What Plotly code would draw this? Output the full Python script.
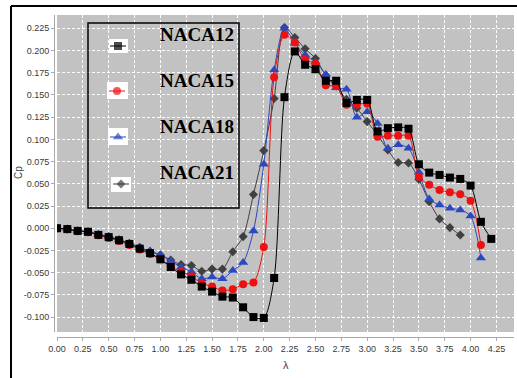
import plotly.graph_objects as go

# ---------------- data ----------------
lam_12 = [0.0, 0.1, 0.2, 0.3, 0.4, 0.5, 0.6, 0.7, 0.8, 0.9, 1.0, 1.1, 1.2, 1.3, 1.4, 1.5, 1.6, 1.7, 1.8, 1.9,
          2.0, 2.1, 2.2, 2.3, 2.4, 2.5, 2.6, 2.7, 2.8, 2.9, 3.0, 3.1, 3.2, 3.3, 3.4, 3.5, 3.6, 3.7, 3.8, 3.9,
          4.0, 4.1, 4.2]
cp_12 = [0.000, -0.001, -0.003, -0.004, -0.0075, -0.010, -0.0135, -0.0177, -0.023, -0.028,
         -0.035, -0.0436, -0.052, -0.058, -0.0657, -0.0714, -0.077, -0.078, -0.089, -0.100,
         -0.101, -0.056, 0.1475, 0.199, 0.184, 0.179, 0.166, 0.166, 0.141, 0.1445,
         0.1445, 0.109, 0.1126, 0.1135, 0.112, 0.072, 0.0626, 0.060, 0.057, 0.0555,
         0.048, 0.0072, -0.012]

lam_15 = [0.0, 0.1, 0.2, 0.3, 0.4, 0.5, 0.6, 0.7, 0.8, 0.9, 1.0, 1.1, 1.2, 1.3, 1.4, 1.5, 1.6, 1.7, 1.8, 1.9,
          2.0, 2.1, 2.2, 2.3, 2.4, 2.5, 2.6, 2.7, 2.8, 2.9, 3.0, 3.1, 3.2, 3.3, 3.4, 3.5, 3.6, 3.7, 3.8, 3.9,
          4.0, 4.1]
cp_15 = [0.000, -0.001, -0.003, -0.0045, -0.008, -0.011, -0.0145, -0.019, -0.024, -0.029,
         -0.035, -0.043, -0.049, -0.054, -0.062, -0.0655, -0.070, -0.0687, -0.063, -0.061,
         -0.021, 0.170, 0.2177, 0.209, 0.190, 0.185, 0.161, 0.160, 0.139, 0.139,
         0.140, 0.103, 0.104, 0.104, 0.104, 0.058, 0.0488, 0.043, 0.0405, 0.0383,
         0.031, -0.0188]

lam_18 = [0.0, 0.1, 0.2, 0.3, 0.4, 0.5, 0.6, 0.7, 0.8, 0.9, 1.0, 1.1, 1.2, 1.3, 1.4, 1.5, 1.6, 1.7, 1.8, 1.9,
          2.0, 2.1, 2.2, 2.3, 2.4, 2.5, 2.6, 2.7, 2.8, 2.9, 3.0, 3.1, 3.2, 3.3, 3.4, 3.5, 3.6, 3.7, 3.8, 3.9,
          4.0, 4.1]
cp_18 = [0.000, -0.001, -0.003, -0.004, -0.007, -0.0095, -0.013, -0.017, -0.022, -0.026,
         -0.030, -0.0368, -0.044, -0.049, -0.057, -0.055, -0.057, -0.0477, -0.0387, -0.003,
         0.072, 0.178, 0.225, 0.208, 0.195, 0.187, 0.173, 0.158, 0.1565, 0.125,
         0.131, 0.118, 0.090, 0.094, 0.090, 0.063, 0.033, 0.0262, 0.0225, 0.0206,
         0.0138, -0.0335]

lam_21 = [0.0, 0.1, 0.2, 0.3, 0.4, 0.5, 0.6, 0.7, 0.8, 0.9, 1.0, 1.1, 1.2, 1.3, 1.4, 1.5, 1.6, 1.7, 1.8, 1.9,
          2.0, 2.1, 2.2, 2.3, 2.4, 2.5, 2.6, 2.7, 2.8, 2.9, 3.0, 3.1, 3.2, 3.3, 3.4, 3.5, 3.6, 3.7, 3.8, 3.9]
cp_21 = [0.000, -0.001, -0.003, -0.004, -0.007, -0.0095, -0.013, -0.017, -0.0215, -0.026,
         -0.030, -0.0357, -0.041, -0.042, -0.0485, -0.046, -0.046, -0.0265, -0.0094, 0.038,
         0.0874, 0.146, 0.226, 0.2147, 0.202, 0.191, 0.172, 0.160, 0.145, 0.135,
         0.120, 0.105, 0.088, 0.074, 0.0735, 0.055, 0.030, 0.0105, 0.0007, -0.0077]

series_names = ["NACA12", "NACA15", "NACA18", "NACA21"]

x_tick_vals = [0.0, 0.25, 0.5, 0.75, 1.0, 1.25, 1.5, 1.75, 2.0, 2.25, 2.5, 2.75, 3.0, 3.25, 3.5, 3.75, 4.0, 4.25]
x_tick_text = ["0.00", "0.25", "0.50", "0.75", "1.00", "1.25", "1.50", "1.75", "2.00", "2.25", "2.50",
               "2.75", "3.00", "3.25", "3.50", "3.75", "4.00", "4.25"]
y_tick_vals = [-0.1, -0.075, -0.05, -0.025, 0.0, 0.025, 0.05, 0.075, 0.1, 0.125, 0.15, 0.175, 0.2, 0.225]
y_tick_text = ["-0.100", "-0.075", "-0.050", "-0.025", "0.000", "0.025", "0.050", "0.075", "0.100",
               "0.125", "0.150", "0.175", "0.200", "0.225"]

# ---------------- styling / layout ----------------
W, H = 517, 378


def px(x):
    return x / W


def py(y):
    return 1 - y / H


styles = {
    "NACA12": dict(color="#000000", symbol="square", size=8),
    "NACA15": dict(color="#ee1111", symbol="circle", size=8),
    "NACA18": dict(color="#2c48c0", symbol="triangle-up", size=9),
    "NACA21": dict(color="#404040", symbol="diamond", size=7),
}
data = {
    "NACA12": (lam_12, cp_12),
    "NACA15": (lam_15, cp_15),
    "NACA18": (lam_18, cp_18),
    "NACA21": (lam_21, cp_21),
}

fig = go.Figure()
for name in ["NACA21", "NACA18", "NACA15", "NACA12"]:
    xs, ys = data[name]
    st = styles[name]
    fig.add_trace(go.Scatter(
        x=xs, y=ys, mode="lines+markers", name=name, showlegend=False,
        line=dict(color=st["color"], width=1, shape="spline", smoothing=0.8),
        marker=dict(color=st["color"], symbol=st["symbol"], size=st["size"], line=dict(width=0)),
        xaxis="x", yaxis="y",
    ))

# legend (drawn manually in pixel-like overlay coordinates)
leg_marker_pos = {"NACA12": (118, 46), "NACA15": (117, 91), "NACA18": (118, 137), "NACA21": (121, 184)}
leg_bg = {"NACA12": (109, 39, 128, 53), "NACA15": (107, 82, 128, 99),
          "NACA18": (108, 128, 128, 145), "NACA21": (111, 177, 131, 192)}
leg_text_pos = {"NACA12": (197, 34), "NACA15": (197, 80), "NACA18": (197, 126), "NACA21": (197, 172)}

shapes = []
# gray plot background
shapes.append(dict(type="rect", xref="paper", yref="paper", x0=px(57), x1=px(514), y0=py(332), y1=py(15),
                   fillcolor="#c2c2c2", line=dict(width=0), layer="below"))
# outer frame (top and left)
shapes.append(dict(type="line", xref="paper", yref="paper", x0=px(11), x1=px(517), y0=py(6), y1=py(6),
                   line=dict(color="black", width=2), layer="above"))
shapes.append(dict(type="line", xref="paper", yref="paper", x0=px(11), x1=px(11), y0=py(6), y1=py(378),
                   line=dict(color="black", width=2), layer="above"))

annotations = []
for name in series_names:
    st = styles[name]
    cx, cy = leg_marker_pos[name]
    x0, y0, x1, y1 = leg_bg[name]
    shapes.append(dict(type="rect", xref="x2", yref="y2", x0=x0, x1=x1, y0=y0, y1=y1,
                       fillcolor="white", line=dict(width=0), layer="below"))
    fig.add_trace(go.Scatter(
        x=[cx - 8, cx, cx + 8], y=[cy, cy, cy], mode="lines+markers", showlegend=False,
        line=dict(color=st["color"], width=1),
        marker=dict(color=st["color"], symbol=st["symbol"], size=[0, st["size"], 0], line=dict(width=0)),
        xaxis="x2", yaxis="y2", hoverinfo="skip",
    ))
    tx, ty = leg_text_pos[name]
    annotations.append(dict(x=tx, y=ty, xref="x2", yref="y2", text="<b>" + name + "</b>", showarrow=False,
                            font=dict(family="Liberation Serif", size=19, color="black"),
                            xanchor="center", yanchor="middle"))

shapes.append(dict(type="rect", xref="x2", yref="y2", x0=88, x1=239, y0=23, y1=208,
                   line=dict(color="black", width=1.5), fillcolor="rgba(0,0,0,0)", layer="above"))

# axis titles
annotations.append(dict(x=px(18), y=py(173), xref="paper", yref="paper", text="Cp", showarrow=False,
                        textangle=-90, font=dict(family="Liberation Sans", size=10, color="#444444"),
                        xanchor="center", yanchor="middle"))
annotations.append(dict(x=px(286), y=py(365), xref="paper", yref="paper", text="λ", showarrow=False,
                        font=dict(family="Liberation Sans", size=11, color="#444444"),
                        xanchor="center", yanchor="middle"))

tickfont = dict(family="Liberation Sans", size=9, color="#3a3a3a")
fig.update_layout(
    width=W, height=H,
    margin=dict(l=0, r=0, t=0, b=0),
    paper_bgcolor="white",
    plot_bgcolor="rgba(0,0,0,0)",
    showlegend=False,
    xaxis=dict(domain=[px(57), px(514)], range=[0, 4.42], anchor="free", position=py(337),
               tickvals=x_tick_vals, ticktext=x_tick_text, tickfont=tickfont,
               showgrid=True, gridcolor="white", gridwidth=1, griddash="3px,2px",
               showline=True, linecolor="#a8a8a8", linewidth=1,
               ticks="outside", ticklen=3, tickcolor="#a8a8a8",
               zeroline=False, automargin=False, fixedrange=True),
    yaxis=dict(domain=[py(332), py(15)], range=[-0.1168, 0.240], anchor="free", position=px(54),
               tickvals=y_tick_vals, ticktext=y_tick_text, tickfont=tickfont,
               showgrid=True, gridcolor="white", gridwidth=1, griddash="3px,2px",
               showline=True, linecolor="#a8a8a8", linewidth=1,
               ticks="outside", ticklen=3, tickcolor="#a8a8a8",
               zeroline=False, automargin=False, fixedrange=True),
    xaxis2=dict(domain=[0, 1], range=[0, W], anchor="y2", visible=False, fixedrange=True),
    yaxis2=dict(domain=[0, 1], range=[H, 0], anchor="x2", visible=False, fixedrange=True),
    shapes=shapes,
    annotations=annotations,
)

fig.write_html("out.html")
